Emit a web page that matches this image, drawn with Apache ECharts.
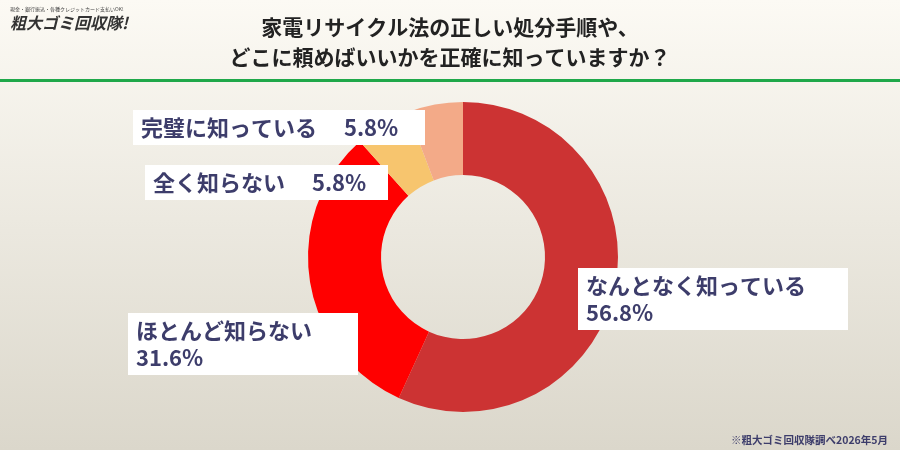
<!DOCTYPE html>
<html>
<head>
<meta charset="utf-8">
<script src="https://cdn.jsdelivr.net/npm/echarts@6/dist/echarts.min.js"></script>
<style>
  html, body { margin: 0; padding: 0; }
  #chart { width: 900px; height: 450px; }
</style>
</head>
<body>
<div id="chart"></div>
<script>
var categories = ['なんとなく知っている', 'ほとんど知らない', '全く知らない', '完璧に知っている'];
var values = [56.8, 31.6, 5.8, 5.8];
var colors = ['#cc3333', '#ff0000', '#f7c56e', '#f3aa88'];
// label box placement (left, top, width) per slice
var labelPos = [[578, 268, 254], [128, 313, 214], [145, 165, 227], [133, 110, 276]];

var myChart = echarts.init(document.getElementById('chart'));
var font = '"Noto Sans CJK JP", sans-serif';

var option = {
    backgroundColor: {
        type: 'linear', x: 0, y: 0, x2: 0, y2: 1,
        colorStops: [{offset: 0, color: '#fcfaf4'}, {offset: 1, color: '#dbd7cb'}]
    },
    title: {
        text: '家電リサイクル法の正しい処分手順や、\nどこに頼めばいいかを正確に知っていますか？',
        left: 'center',
        top: 7,
        textStyle: {fontFamily: font, fontSize: 21, fontWeight: 'bold', color: '#222', lineHeight: 30}
    },
    graphic: [
        {type: 'rect', shape: {x: 0, y: 79, width: 900, height: 3}, style: {fill: '#1fa84a'}},
        {type: 'text', left: 10, top: 7, style: {text: '現金・銀行振込・各種クレジットカード支払いOK!', fontSize: 5, fill: '#444', fontFamily: font}},
        {type: 'text', left: 10, top: 15, style: {text: '粗大ゴミ回収隊!', fontSize: 16, fontWeight: 'bold', fontStyle: 'italic', fill: '#333', fontFamily: font}},
        {type: 'text', right: 12, bottom: 5, style: {text: '※粗大ゴミ回収隊調べ2026年5月', fontSize: 10.5, fontWeight: 'bold', fill: '#3d3d6b', fontFamily: font}}
    ],
    series: [{
        type: 'pie',
        center: [463, 257],
        radius: [82, 155],
        startAngle: 90,
        clockwise: true,
        silent: true,
        color: colors,
        label: {
            show: true,
            formatter: function (p) {
                return p.dataIndex < 2 ? p.name + '\n' + p.value + '%' : p.name + '　 ' + p.value + '%';
            },
            backgroundColor: '#ffffff',
            padding: [4, 8],
            color: '#3d3d6b',
            fontFamily: font,
            fontSize: 22,
            fontWeight: 'bold',
            lineHeight: 27,
            align: 'left'
        },
        labelLine: {show: false},
        labelLayout: function (params) {
            var p = labelPos[params.dataIndex];
            return {x: p[0], y: p[1], width: p[2], align: 'left', verticalAlign: 'top'};
        },
        data: categories.map(function (c, i) { return {name: c, value: values[i]}; })
    }]
};
myChart.setOption(option);
</script>
</body>
</html>
